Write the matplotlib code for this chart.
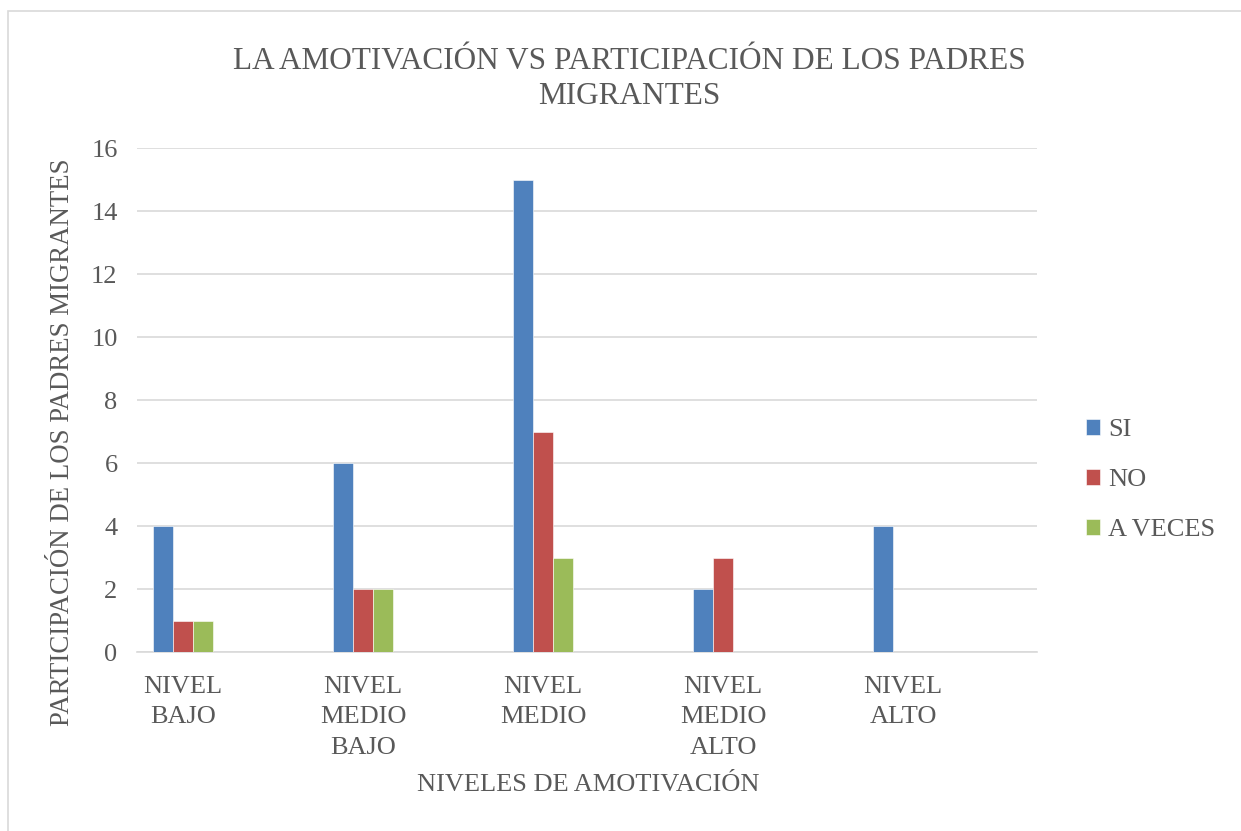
import matplotlib.pyplot as plt
from matplotlib.patches import Rectangle
import numpy as np

plt.rcParams["font.family"] = ["Liberation Serif", "DejaVu Serif"]

categorias = ["NIVEL\nBAJO", "NIVEL\nMEDIO\nBAJO", "NIVEL\nMEDIO", "NIVEL\nMEDIO\nALTO", "NIVEL\nALTO"]
si = [4, 6, 15, 2, 4]
no = [1, 2, 7, 3, 0]
a_veces = [1, 2, 3, 0, 0]
series = ["SI", "NO", "A VECES"]
colores = ["#4F81BD", "#C0504D", "#9BBB59"]
gris = "#595959"

fig = plt.figure(figsize=(12.41, 8.31), dpi=100)
ax = fig.add_axes([0.1104, 0.2154, 0.7252, 0.6065])

# marco del grafico
fig.patches.append(Rectangle((8 / 1241, -0.01), 1.0, 1 - 11 / 831 + 0.01,
                             transform=fig.transFigure, fill=False,
                             edgecolor="#d9d9d9", linewidth=1.2))

x = np.arange(len(categorias))
w = 0.111
for i, (vals, nombre) in enumerate(zip([si, no, a_veces], series)):
    ax.bar(x + (i - 1) * w, vals, width=w, color=colores[i], label=nombre,
           zorder=3, edgecolor="white", linewidth=0.4)

ax.set_xlim(-0.256, 4.744)
ax.set_ylim(0, 16)
ax.set_yticks(range(0, 17, 2))
ax.set_xticks(x)
ax.set_xticklabels(categorias, linespacing=1.5)
ax.tick_params(axis="both", length=0, labelsize=19, colors=gris)
ax.tick_params(axis="y", pad=14)
ax.tick_params(axis="x", pad=17)
ax.grid(axis="y", color="#d9d9d9", linewidth=1.2, zorder=0)
for s in ["top", "right", "left"]:
    ax.spines[s].set_visible(False)
ax.spines["bottom"].set_color("#d9d9d9")
ax.spines["bottom"].set_linewidth(1.2)

fig.text(0.507, 1 - 79 / 831, "LA AMOTIVACIÓN VS PARTICIPACIÓN DE LOS PADRES\nMIGRANTES",
         ha="center", va="center", fontsize=22.5, color=gris, linespacing=1.3)
fig.text(63 / 1241, 1 - 442 / 831, "PARTICIPACIÓN DE LOS PADRES MIGRANTES",
         rotation=90, ha="center", va="center", fontsize=19.3, color=gris)
fig.text(588 / 1241, 1 - 785 / 831, "NIVELES DE AMOTIVACIÓN",
         ha="center", va="center", fontsize=19, color=gris)

leg = ax.legend(loc="center left", bbox_to_anchor=(1.028, 0.341), frameon=False,
                fontsize=19, handlelength=0.55, handleheight=0.55,
                handletextpad=0.3, labelspacing=1.05, labelcolor=gris)

fig.savefig("out.png", dpi=100)
